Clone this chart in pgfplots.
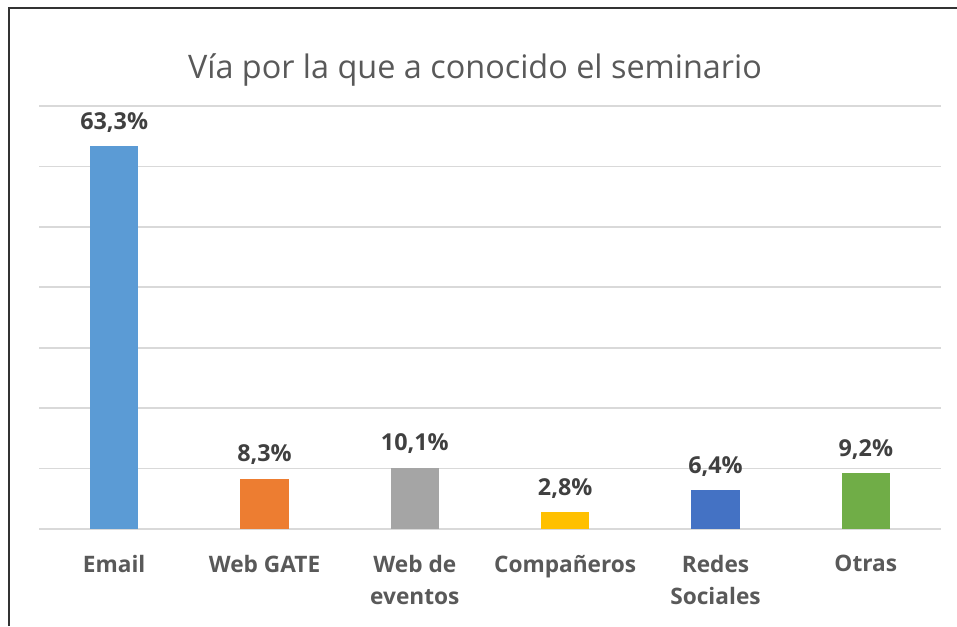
\documentclass[border=0pt]{standalone}
\usepackage{pgfplots}
\pgfplotsset{compat=1.18}
\usepackage{fontspec}
\setmainfont{Open Sans}
\definecolor{cEmail}{HTML}{5B9BD5}
\definecolor{cGate}{HTML}{ED7D31}
\definecolor{cEvent}{HTML}{A5A5A5}
\definecolor{cComp}{HTML}{FFC000}
\definecolor{cRedes}{HTML}{4472C4}
\definecolor{cOtras}{HTML}{70AD47}
\definecolor{txt}{HTML}{595959}
\definecolor{lbl}{HTML}{404040}
\definecolor{gridc}{HTML}{D9D9D9}
\begin{document}
\begin{tikzpicture}
\path[use as bounding box] (0pt,0pt) rectangle (717.75pt,469.5pt);
\draw[black!80, line width=1pt] (6.75pt,0pt) -- (6.75pt,463.5pt) -- (717.75pt,463.5pt);
\node[text=txt, font=\fontsize{24.3}{28}\selectfont] at (356.25pt,417pt) {Vía por la que a conocido el seminario};
\begin{axis}[
  at={(29.25pt,72.75pt)}, anchor=south west,
  scale only axis, width=676.5pt, height=317.25pt,
  xmin=-0.5, xmax=5.5, ymin=0, ymax=70,
  axis line style={draw=none},
  ytick={0,10,...,70}, yticklabels={},
  ymajorgrids, xmajorgrids=false, grid style={draw=gridc, line width=1.2pt},
  major tick length=0pt,
  xtick={0,1,2,3,4,5},
  xticklabels={Email, Web GATE, {Web de\\eventos}, Compañeros, {Redes\\Sociales}, Otras},
  xticklabel style={align=center, text=txt, font=\fontsize{17}{24.5}\selectfont\bfseries, yshift=-16pt},
  ybar, bar width=36pt, bar shift=0pt,
  point meta=explicit symbolic,
  nodes near coords,
  every node near coord/.append style={text=lbl, font=\fontsize{17.5}{22}\selectfont\bfseries, yshift=7pt},
  clip=false,
]
\addplot[fill=cEmail, draw=none] coordinates {(0,63.3) [63,3\%]};
\addplot[fill=cGate, draw=none] coordinates {(1,8.3) [8,3\%]};
\addplot[fill=cEvent, draw=none] coordinates {(2,10.1) [10,1\%]};
\addplot[fill=cComp, draw=none] coordinates {(3,2.8) [2,8\%]};
\addplot[fill=cRedes, draw=none] coordinates {(4,6.4) [6,4\%]};
\addplot[fill=cOtras, draw=none] coordinates {(5,9.2) [9,2\%]};
\end{axis}
\end{tikzpicture}
\end{document}
